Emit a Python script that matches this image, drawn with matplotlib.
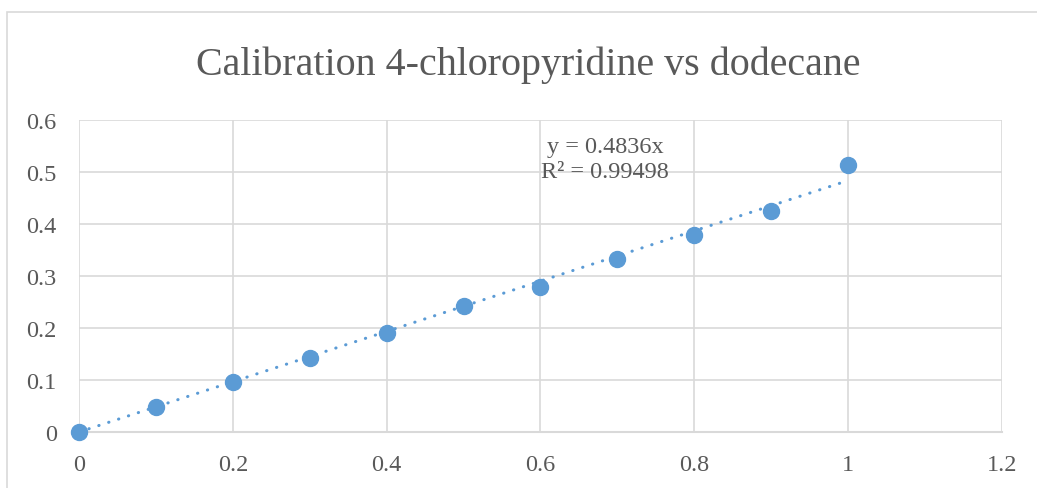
import matplotlib.pyplot as plt
import matplotlib.patches as patches

# calibration data: concentration ratio vs area ratio
conc_ratio = [0, 0.1, 0.2, 0.3, 0.4, 0.5, 0.6, 0.7, 0.8, 0.9, 1.0]
area_ratio = [0, 0.048, 0.096, 0.142, 0.190, 0.242, 0.279, 0.333, 0.379, 0.425, 0.513]

slope = 0.4836
r_squared = 0.99498

x_ticks = [0, 0.2, 0.4, 0.6, 0.8, 1, 1.2]
y_ticks = [0, 0.1, 0.2, 0.3, 0.4, 0.5, 0.6]

plt.rcParams['font.family'] = ['Liberation Serif', 'DejaVu Serif']

text_grey = '#595959'
grid_grey = '#d9d9d9'
blue = '#5b9bd5'

fig = plt.figure(figsize=(10.37, 4.89), dpi=100)
ax = fig.add_axes([0.0762, 0.1145, 0.8900, 0.6381])

# outer chart frame
fig.patches.append(patches.Rectangle((7 / 1037, -0.1), 1.1, 1 - 13 / 489 + 0.1,
                                     transform=fig.transFigure, fill=False,
                                     edgecolor='#d9d9d9', lw=1.2))

ax.set_xlim(0, 1.2)
ax.set_ylim(0, 0.6)
ax.set_xticks(x_ticks)
ax.set_xticklabels(['0', '0.2', '0.4', '0.6', '0.8', '1', '1.2'])
ax.set_yticks(y_ticks)
ax.set_yticklabels(['0', '0.1', '0.2', '0.3', '0.4', '0.5', '0.6'])
ax.grid(True, color=grid_grey, lw=1.2)
ax.set_axisbelow(True)
for side in ['top', 'right', 'left']:
    ax.spines[side].set_visible(False)
ax.spines['bottom'].set_color(grid_grey)
ax.spines['bottom'].set_linewidth(1.5)
ax.tick_params(length=0, labelsize=17.5, colors=text_grey)
ax.tick_params(axis='x', pad=16)
ax.tick_params(axis='y', pad=16)

# linear trendline through origin
fit_x = [0, 1.0]
fit_y = [slope * v for v in fit_x]
ax.plot(fit_x, fit_y, color=blue, lw=2.2, linestyle=(0, (0.1, 3.3)),
        dash_capstyle='round', zorder=3)

ax.plot(conc_ratio, area_ratio, 'o', color=blue, markersize=11.5, zorder=4,
        clip_on=False)

ax.text(0.684, 0.525, 'y = {}x\nR\u00b2 = {}'.format(slope, r_squared),
        ha='center', va='center', fontsize=17.5, color=text_grey, linespacing=1.2)

fig.text(0.509, 0.866, 'Calibration 4-chloropyridine vs dodecane',
         ha='center', va='center', fontsize=28.8, color=text_grey)

fig.savefig('out.png', dpi=100)
